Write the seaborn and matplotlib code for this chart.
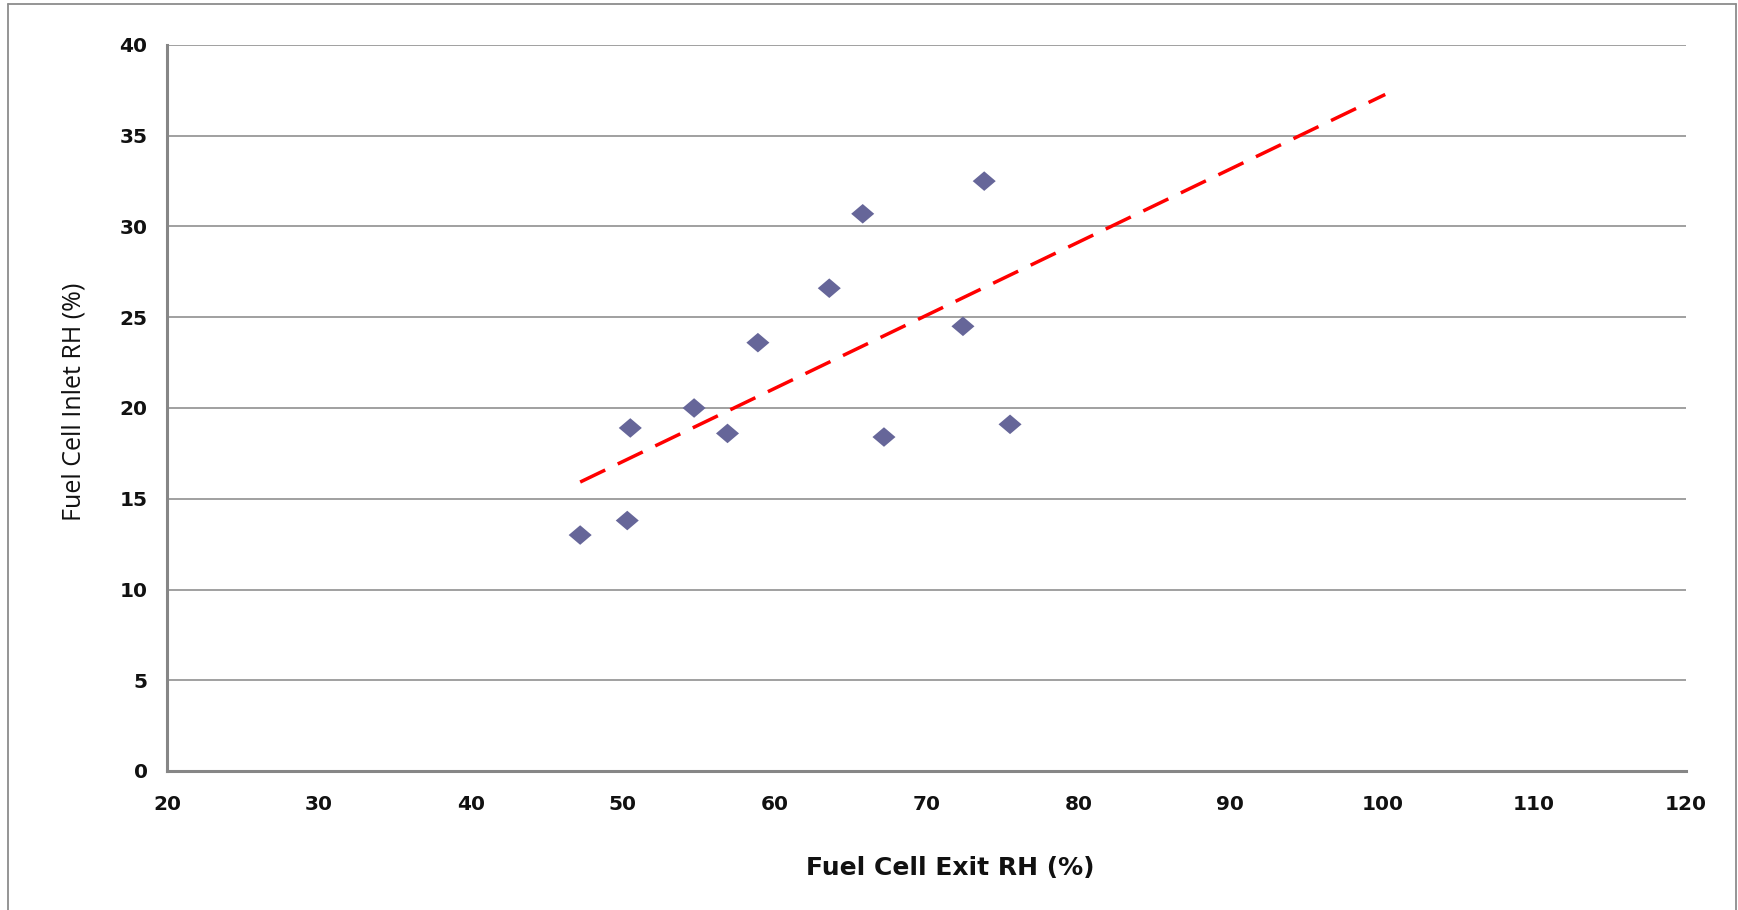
import numpy as np
import pandas as pd
import matplotlib
matplotlib.use("Agg")
import matplotlib.pyplot as plt
from matplotlib.path import Path
from matplotlib.lines import Line2D
import seaborn as sns

# ---- data ----
exit_rh = [47.2, 50.3, 50.5, 54.7, 56.9, 58.9, 63.6, 65.8, 67.2, 72.4, 73.8, 75.5]
inlet_rh = [13.0, 13.8, 18.9, 20.0, 18.6, 23.6, 26.6, 30.7, 18.4, 24.5, 32.5, 19.1]
trend_forward_to = 100.2
x_ticks = [20, 30, 40, 50, 60, 70, 80, 90, 100, 110, 120]
y_ticks = [0, 5, 10, 15, 20, 25, 30, 35, 40]
x_label = "Fuel Cell Exit RH (%)"
y_label = "Fuel Cell Inlet RH (%)"

df = pd.DataFrame({"exit": exit_rh, "inlet": inlet_rh})

sns.set_theme(style="white")
plt.rcParams["font.family"] = ["DejaVu Sans"]

W, H, DPI = 1738, 910, 100
fig = plt.figure(figsize=(W / DPI, H / DPI), dpi=DPI)
L, R, T, B = 167, 1686, 45, 771
ax = fig.add_axes([L / W, 1 - B / H, (R - L) / W, (B - T) / H])

grid_c = "#868686"
for yv in y_ticks[1:]:
    ax.axhline(yv, color=grid_c, lw=1.1, zorder=0)

# trendline (linear least squares, forward forecast)
slope, intercept = np.polyfit(df["exit"], df["inlet"], 1)
tx = np.array([df["exit"].min(), trend_forward_to])
trend = pd.DataFrame({"x": tx, "y": slope * tx + intercept})
sns.lineplot(data=trend, x="x", y="y", ax=ax, color="#FF0000", lw=2.5,
             dashes=False, zorder=3)
ax.lines[-1].set_dashes((8, 4.0))

diamond = Path([(-1, 0), (0, 0.85), (1, 0), (0, -0.85), (-1, 0)],
               [Path.MOVETO, Path.LINETO, Path.LINETO, Path.LINETO, Path.CLOSEPOLY])
sns.scatterplot(data=df, x="exit", y="inlet", ax=ax, marker=diamond, s=275,
                color="#666699", edgecolor="none", linewidth=0, zorder=4)

ax.set_xlim(20, 120)
ax.set_ylim(0, 40)
ax.set_xticks(x_ticks)
ax.set_yticks(y_ticks)
for s in ["top", "right"]:
    ax.spines[s].set_visible(False)
for s in ["left", "bottom"]:
    ax.spines[s].set_color(grid_c)
    ax.spines[s].set_linewidth(2.2)
ax.tick_params(axis="both", which="major", direction="out", color=grid_c,
               width=1.6, length=6, labelsize=14.5, labelcolor="#111111")
ax.tick_params(axis="x", pad=11)
ax.tick_params(axis="y", pad=8)
for lab in ax.get_xticklabels() + ax.get_yticklabels():
    lab.set_fontweight("bold")

ax.set_xlabel(x_label, fontsize=18, fontweight="bold", color="#111111",
              family=["DejaVu Sans"])
ax.xaxis.set_label_coords((950 - L) / (R - L), -(868 - B) / (B - T), transform=ax.transAxes)
ax.xaxis.label.set_va("center")
ax.set_ylabel(y_label, fontsize=18, color="#111111", family=["Open Sans", "DejaVu Sans"])
ax.yaxis.set_label_coords(-(L - 74) / (R - L), 0.508)
ax.yaxis.label.set_va("center")

# outer chart frame
fc = "#8c8c8c"
fig.add_artist(Line2D([8 / W, 8 / W], [0, 1 - 4 / H], transform=fig.transFigure, color=fc, lw=1.3))
fig.add_artist(Line2D([8 / W, 1736 / W], [1 - 4 / H, 1 - 4 / H], transform=fig.transFigure, color=fc, lw=1.3))
fig.add_artist(Line2D([1736 / W, 1736 / W], [0, 1 - 4 / H], transform=fig.transFigure, color=fc, lw=1.3))

fig.savefig("out.png", dpi=DPI)
